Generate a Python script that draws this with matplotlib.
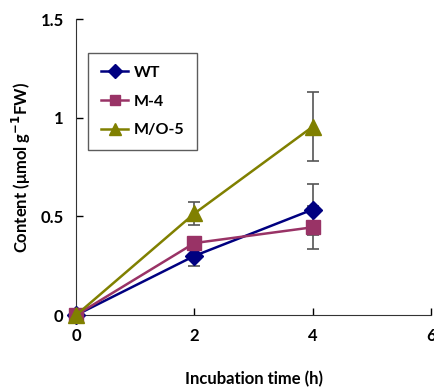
import matplotlib.pyplot as plt

plt.rcParams['font.family'] = ['Lato', 'DejaVu Sans']

time = [0, 2, 4]
wt = [0, 0.30, 0.535]
wt_err = [0, 0.05, 0.13]
m4 = [0, 0.365, 0.445]
m4_err = [0, 0.03, 0.11]
mo5 = [0, 0.515, 0.955]
mo5_err = [0, 0.06, 0.175]

series = [
    ("WT", wt, wt_err, "#000080", "D", 9),
    ("M-4", m4, m4_err, "#993366", "s", 10),
    ("M/O-5", mo5, mo5_err, "#808000", "^", 12),
]

fig = plt.figure(figsize=(4.35, 3.89), dpi=100)
ax = fig.add_axes([0.175, 0.19, 0.816, 0.761])

for name, y, e, c, m, ms in series:
    ax.errorbar(time, y, yerr=e, fmt="none", ecolor="#555555", elinewidth=1.2,
                capsize=4, capthick=1.2, zorder=2, clip_on=False)
    ax.plot(time, y, color=c, marker=m, markersize=ms, linewidth=1.8,
            label=name, zorder=3, clip_on=False)

ax.set_xlim(0, 6)
ax.set_ylim(0, 1.5)
ax.set_xticks([0, 2, 4, 6])
ax.set_yticks([0, 0.5, 1, 1.5])
ax.set_yticklabels(["0", "0.5", "1", "1.5"])
ax.tick_params(direction="in", length=5, width=1, labelsize=12, pad=9)
for lab in ax.get_xticklabels() + ax.get_yticklabels():
    lab.set_fontweight("bold")
ax.spines["top"].set_visible(False)
ax.spines["right"].set_visible(False)
ax.spines["left"].set_color("#333333")
ax.spines["bottom"].set_color("#333333")

ax.set_xlabel("Incubation time (h)", fontsize=12, fontweight="bold", labelpad=20)
ax.set_ylabel("Content (μmol g$^{\\mathbf{-1}}$FW)", fontsize=12, fontweight="bold", labelpad=5)

leg = ax.legend(loc="upper left", bbox_to_anchor=(0.034, 0.885), frameon=True,
                fancybox=False, edgecolor="#333333", fontsize=11.5, markerscale=0.75,
                handlelength=1.7, handletextpad=0.35, borderpad=0.8, labelspacing=0.9,
                borderaxespad=0)
leg.get_frame().set_linewidth(1)
for t in leg.get_texts():
    t.set_fontweight("bold")

plt.savefig("out.png", dpi=100)
